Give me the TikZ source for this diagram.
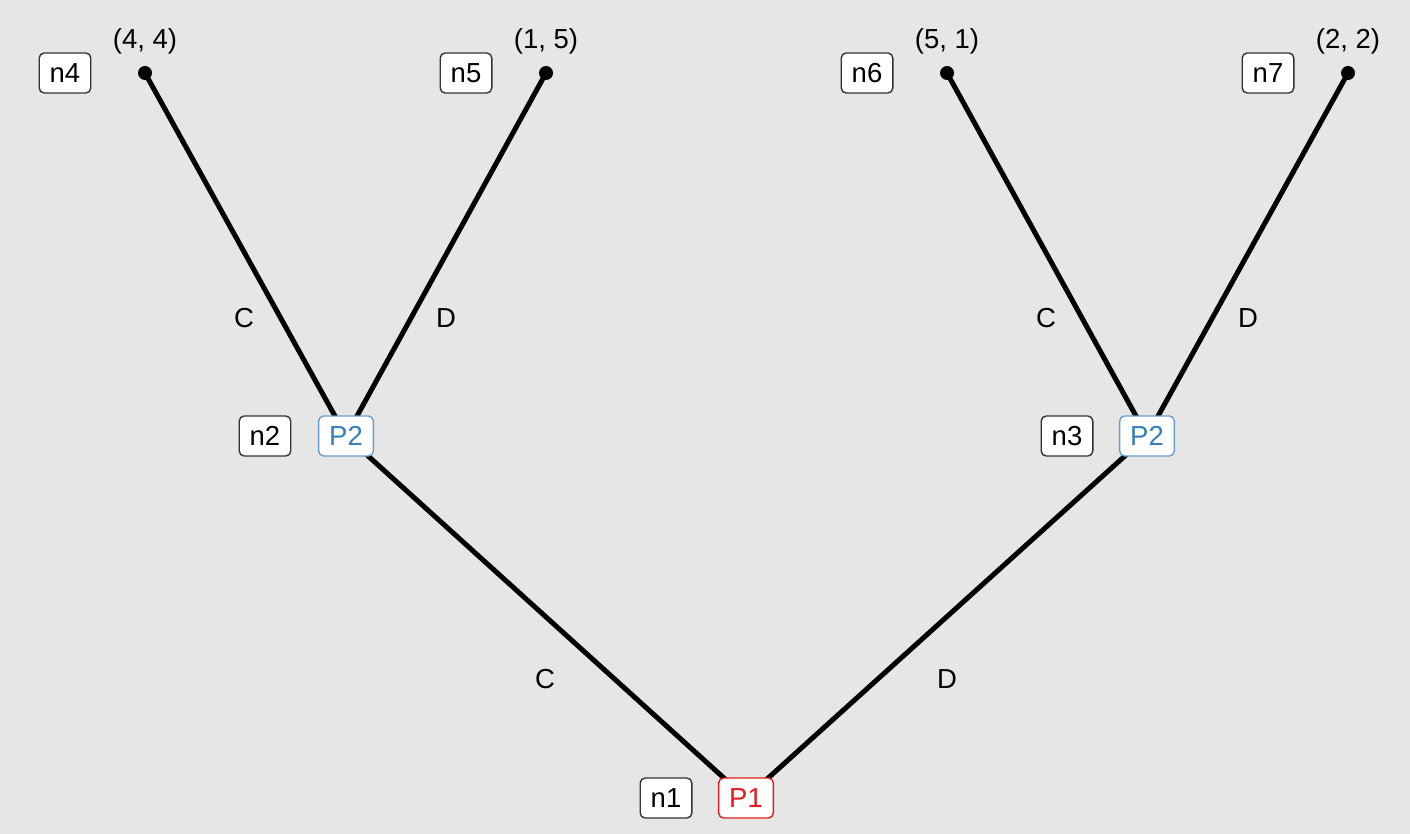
\documentclass[tikz,border=0pt]{standalone}
\usepackage{fontspec}
\setmainfont{Liberation Sans}
\pgfdeclarelayer{bg}
\pgfdeclarelayer{edges}
\pgfsetlayers{bg,edges,main}
\definecolor{panel}{HTML}{E6E6E6}
\definecolor{ptwo}{HTML}{377EB8}
\definecolor{pone}{HTML}{E41A1C}
\begin{document}
\begin{tikzpicture}[x=1pt,y=-1pt,
  every node/.style={font=\fontsize{27.5}{31}\selectfont},
  lab/.style={draw=black!80, fill=white, rounded corners=5pt, line width=1.4pt, inner xsep=10.5pt, inner ysep=0pt, minimum height=40pt},
  pl2/.style={lab, draw=ptwo!75, text=ptwo},
  pl1/.style={lab, draw=pone, text=pone},
  leaf/.style={circle, fill=black, inner sep=0pt, minimum size=14pt},
  edge/.style={line width=5pt, black},
  act/.style={inner sep=0pt}]
\begin{pgfonlayer}{bg}
\fill[panel] (0,0) rectangle (1410,834);
\end{pgfonlayer}
\useasboundingbox (0,0) rectangle (1410,834);
% leaves
\node[leaf] (l4) at (145,73) {};
\node[leaf] (l5) at (546,73) {};
\node[leaf] (l6) at (947,73) {};
\node[leaf] (l7) at (1348,73) {};
% players
\node[pl2] (p2a) at (346,436) {P2};
\node[pl2] (p2b) at (1147,436) {P2};
\node[pl1] (p1) at (746,798) {P1};
% node ids
\node[lab] (n4) at (65,73) {n4};
\node[lab] (n5) at (466,73) {n5};
\node[lab] (n6) at (867,73) {n6};
\node[lab] (n7) at (1268,73) {n7};
\node[lab] (n2) at (265,436) {n2};
\node[lab] (n3) at (1067,436) {n3};
\node[lab] (n1) at (666,798) {n1};
% payoffs
\node (u4) at (145,41) {(4, 4)};
\node (u5) at (546,41) {(1, 5)};
\node (u6) at (947,41) {(5, 1)};
\node (u7) at (1348,41) {(2, 2)};
% edges
\begin{pgfonlayer}{edges}
\draw[edge] (p1.center) -- (p2a.center);
\draw[edge] (p1.center) -- (p2b.center);
\draw[edge] (p2a.center) -- (l4.center);
\draw[edge] (p2a.center) -- (l5.center);
\draw[edge] (p2b.center) -- (l6.center);
\draw[edge] (p2b.center) -- (l7.center);
\end{pgfonlayer}
% action labels
\node[act] (a1) at (545,679) {C};
\node[act] (a2) at (947,679) {D};
\node[act] (a3) at (244,318) {C};
\node[act] (a4) at (446,318) {D};
\node[act] (a5) at (1046,318) {C};
\node[act] (a6) at (1248,318) {D};
\end{tikzpicture}
\end{document}
